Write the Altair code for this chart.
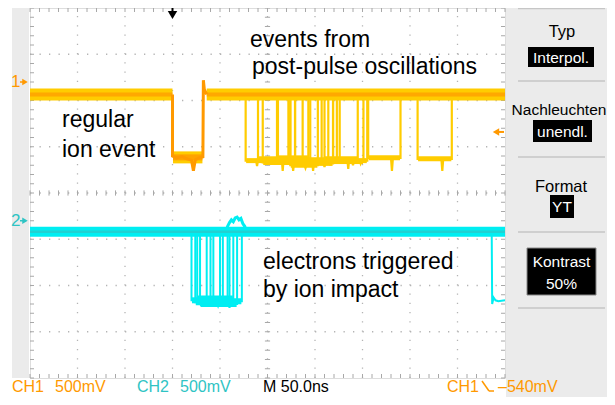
import altair as alt
import pandas as pd
import numpy as np

# ---------------- scope settings ----------------
ns_per_div = 50
mv_per_div = 500
ch1_ground_div = 2.4
ch2_ground_div = -0.6
trigger_time_ns = -100
trigger_level_mv = -540

# ---------------- channel 1 (ion signal) ----------------
ch1_baseline_mv = -135
ch1_base_from = [-250, -64]
ch1_base_to = [-100, 250]

ion_t = [-100, -100, -96, -90, -85, -80, -78, -76, -72, -68, -67.5, -66.5, -64]
ion_mv = [-135, -800, -820, -805, -830, -845, -960, -840, -820, -810, 20, -80, -135]
ion_low_mv = -815

# post-pulse oscillation events
pp_start = [-23, -10, -5, 10, 22, 24, 29, 37, 45, 60, 69, 73, 106, 158]
pp_end = [11, 24, 29, 43, 57, 53, 64, 69, 76, 95, 101, 105, 140, 194]
pp_low = [-850, -830, -870, -820, -860, -900, -840, -880, -850, -830, -860, -850, -820, -830]
pp_dip_t = [-11, 16, 27, 30, 48, 40, 50, 60, 66, 85, 90, 98, 131, 184]
pp_dip_mv = [-910, -960, -960, -900, -960, -930, -900, -920, -900, -940, -900, -880, -960, -960]

# ---------------- channel 2 (electron signal) ----------------
ch2_baseline_mv = -120
el_start = [-80, -76, -74, -71, -64, -60, -57]
el_end = [-50, -42, -36, -32, -27, -40, -47]
el_low = [-860, -880, -840, -900, -870, -850, -890]
el_dip_t = [-70, -55, -45, -40, -35, -50, -52]
el_dip_mv = [-920, -930, -900, -940, -910, -900, -920]

bump_t = [-44, -42, -40, -38, -36, -34, -32, -30, -28, -26, -24, -22]
bump_mv = [-120, -60, -20, 10, -10, 30, 40, 10, 25, -30, -60, -120]

late_t = [236, 236.5, 238, 240, 243, 250]
late_mv = [-120, -900, -830, -860, -870, -860]

# ---------------- styling ----------------
W, H = 475, 370
ORANGE = "#ff9900"
YELLOW = "#ffcc00"
CYAN = "#00eef2"
TEAL = "#2fc4c4"
GRID = "#b4b4b4"
SANS = "Liberation Sans, Arial, sans-serif"

xs = alt.Scale(domain=[-250, 250], nice=False, zero=False)
ys = alt.Scale(domain=[-4, 4], nice=False, zero=False)


def X(f="t"):
    return alt.X(f"{f}:Q", scale=xs, axis=None)


def Y(f="y"):
    return alt.Y(f"{f}:Q", scale=ys, axis=None)


def to_div(mv, gnd):
    return gnd + mv / mv_per_div


def path_df(ts, mvs, gnd, pid):
    return pd.DataFrame({"t": ts, "y": [to_div(v, gnd) for v in mvs],
                         "i": list(range(len(ts))), "id": pid})


def pulse(s, e, low, dt, dv, base, gnd, pid):
    ts = [s, s, dt - 1, dt, dt + 1, e, e]
    mvs = [base, low, low, dv, low, low, base]
    return path_df(ts, mvs, gnd, pid)


def line_layer(df, color, width, opacity=1.0):
    return alt.Chart(df).mark_line(color=color, strokeWidth=width, opacity=opacity,
                                   clip=True, strokeCap="butt", strokeJoin="miter").encode(
        x=X(), y=Y(), detail="id:N", order="i:Q")


dummy = pd.DataFrame({"k": [0]})


def label(txt, x, y, size, color="black", font=SANS, align="left", baseline="alphabetic"):
    return alt.Chart(dummy).mark_text(text=txt, fontSize=size, color=color, font=font,
                                      align=align, baseline=baseline).encode(
        x=alt.value(x), y=alt.value(y))


def box(x1, x2, y1, y2, fill, stroke=None):
    kw = {"stroke": stroke, "strokeWidth": 1} if stroke else {}
    return alt.Chart(dummy).mark_rect(color=fill, **kw).encode(
        x=alt.value(x1), x2=alt.value(x2), y=alt.value(y1), y2=alt.value(y2))


def seg(x1, x2, y1, y2, color, width=1):
    return alt.Chart(dummy).mark_rule(color=color, strokeWidth=width).encode(
        x=alt.value(x1), x2=alt.value(x2), y=alt.value(y1), y2=alt.value(y2))


def ay(ref_y):
    # annotation vertical position, relative to the plot top
    return (ref_y - 5) * H / 378


layers = []

# backgrounds
layers.append(box(-18, -1, 0, H, "#ebebeb"))
layers.append(box(476, 577, 0, 389, "#ebebeb"))

# dotted grid
vgrid = pd.DataFrame({"t": np.arange(-200, 201, ns_per_div), "y": -4.0, "y2": 4.0})
hgrid = pd.DataFrame({"y": np.arange(-3, 4, 1.0), "t": -250.0, "t2": 250.0})
layers.append(alt.Chart(vgrid).mark_rule(color=GRID, strokeWidth=1.3, strokeDash=[1.3, H / 40 - 1.3]).encode(
    x=X(), y=Y(), y2="y2:Q"))
layers.append(alt.Chart(hgrid).mark_rule(color=GRID, strokeWidth=1.3, strokeDash=[1.3, W / 50 - 1.3]).encode(
    x=X(), x2="t2:Q", y=Y()))

# tick marks on border and center lines
tx = np.arange(-250, 250.1, 10.0)
ty = np.arange(-4, 4.01, 0.2)
tl_t = 4 / W * 500
tl_y = 4 / H * 8
ct_t = 2.6 / W * 500
ct_y = 2.6 / H * 8
ticks = pd.concat([
    pd.DataFrame({"t": tx, "t2": tx, "y": 4.0, "y2": 4.0 - tl_y}),
    pd.DataFrame({"t": tx, "t2": tx, "y": -4.0, "y2": -4.0 + tl_y}),
    pd.DataFrame({"t": tx, "t2": tx, "y": -ct_y, "y2": ct_y}),
    pd.DataFrame({"t": -250.0, "t2": -250.0 + tl_t, "y": ty, "y2": ty}),
    pd.DataFrame({"t": 250.0, "t2": 250.0 - tl_t, "y": ty, "y2": ty}),
    pd.DataFrame({"t": -ct_t, "t2": ct_t, "y": ty, "y2": ty}),
])
layers.append(alt.Chart(ticks).mark_rule(color="#a8a8a8", strokeWidth=1).encode(
    x=X(), x2="t2:Q", y=Y(), y2="y2:Q"))

# ---- channel 2 traces ----
ch2_base = path_df([-250, 250], [ch2_baseline_mv] * 2, ch2_ground_div, 0)
el_paths = pd.concat([pulse(s, e, lo, dt, dv, ch2_baseline_mv, ch2_ground_div, k)
                      for k, (s, e, lo, dt, dv) in enumerate(zip(el_start, el_end, el_low, el_dip_t, el_dip_mv))]
                     + [path_df(late_t, late_mv, ch2_ground_div, 100)])
el_bottom = pd.concat([path_df([s + 0.5, e - 0.5], [lo, lo], ch2_ground_div, k)
                       for k, (s, e, lo) in enumerate(zip(el_start, el_end, el_low))])
layers.append(line_layer(el_bottom, CYAN, 6))
layers.append(line_layer(el_paths, CYAN, 2))
layers.append(line_layer(path_df(bump_t, bump_mv, ch2_ground_div, 0), CYAN, 3))
layers.append(line_layer(ch2_base, CYAN, 10))
layers.append(line_layer(ch2_base, TEAL, 2.5, 0.7))

# ---- channel 1 traces ----
pp_paths = pd.concat([pulse(s, e, lo, dt, dv, ch1_baseline_mv, ch1_ground_div, k)
                      for k, (s, e, lo, dt, dv) in enumerate(zip(pp_start, pp_end, pp_low, pp_dip_t, pp_dip_mv))])
pp_bottom = pd.concat([path_df([s + 0.5, e - 0.5], [lo, lo], ch1_ground_div, k)
                       for k, (s, e, lo) in enumerate(zip(pp_start, pp_end, pp_low))])
layers.append(line_layer(pp_bottom, YELLOW, 5))
layers.append(line_layer(pp_paths, YELLOW, 2.2))

ch1_base = pd.concat([path_df([a, b], [ch1_baseline_mv] * 2, ch1_ground_div, k)
                      for k, (a, b) in enumerate(zip(ch1_base_from, ch1_base_to))])
layers.append(line_layer(ch1_base, YELLOW, 12))
layers.append(line_layer(ch1_base, ORANGE, 4, 0.7))

ion_df = path_df(ion_t, ion_mv, ch1_ground_div, 0)
ion_band = path_df([-99.5, -68.5], [ion_low_mv] * 2, ch1_ground_div, 0)
layers.append(line_layer(ion_band, YELLOW, 12))
layers.append(line_layer(ion_band, ORANGE, 6, 0.8))
layers.append(line_layer(ion_df, ORANGE, 3))

# ---- markers ----
for gnd, col, txt in [(ch1_ground_div, ORANGE, "1"), (ch2_ground_div, TEAL, "2")]:
    layers.append(alt.Chart(dummy).mark_text(text=txt, fontSize=17, color=col, font=SANS,
                                             align="left", baseline="middle").encode(
        x=alt.value(-19), y=alt.YDatum(gnd, scale=ys)))
    layers.append(alt.Chart(dummy).mark_point(shape="triangle-right", filled=True, size=40,
                                              color=col, opacity=1).encode(
        x=alt.value(-5), y=alt.YDatum(gnd, scale=ys)))
    layers.append(alt.Chart(dummy).mark_rule(color=col, strokeWidth=1.5).encode(
        x=alt.value(-10), x2=alt.value(-4), y=alt.YDatum(gnd, scale=ys)))

# trigger position (top) and trigger level (right)
layers.append(alt.Chart(dummy).mark_point(shape="triangle-down", filled=True, size=90, color="black", opacity=1).encode(
    x=alt.XDatum(trigger_time_ns, scale=xs), y=alt.value(7)))
layers.append(alt.Chart(dummy).mark_rule(color="black", strokeWidth=2).encode(
    x=alt.XDatum(trigger_time_ns, scale=xs), y=alt.value(0), y2=alt.value(5)))
trig_y = alt.YDatum(to_div(trigger_level_mv, ch1_ground_div), scale=ys)
layers.append(alt.Chart(dummy).mark_point(shape="triangle-left", filled=True, size=55, color=ORANGE, opacity=1).encode(
    x=alt.value(466), y=trig_y))
layers.append(alt.Chart(dummy).mark_rule(color=ORANGE, strokeWidth=2).encode(
    x=alt.value(467), x2=alt.value(474), y=trig_y))

# ---- annotations ----
layers += [
    label("events from", 220, ay(45), 23),
    label("post-pulse oscillations", 222, ay(72), 23),
    label("regular", 32, ay(127), 23),
    label("ion event", 32, ay(157), 23),
    label("electrons triggered", 233, ay(272), 23),
    label("by ion impact", 233, ay(300), 23),
]

# ---- right menu panel ----
for yy in [0.5, 73, 149, 224, 300]:
    layers.append(seg(488, 575, yy, yy, "#c6c6c6", 1.5))
PF = 15.5
layers += [
    label("Typ", 532, 29, 16.5, align="center"),
    box(498, 564, 39, 59, "black"),
    label("Interpol.", 531, 55, PF, color="white", align="center"),
    label("Nachleuchten", 529, 107, PF, align="center"),
    box(503, 562, 112, 134, "black"),
    label("unendl.", 532.5, 129, PF, color="white", align="center"),
    label("Format", 531, 184, 16.5, align="center"),
    box(520, 544, 187, 210, "black"),
    label("YT", 532, 204, PF, color="white", align="center"),
    box(497, 566, 240, 287, "black", stroke="#888888"),
    label("Kontrast", 531.5, 259, PF, color="white", align="center"),
    label("50%", 531.5, 281, PF, color="white", align="center"),
]

# ---- status line ----
SB = 384
SF = 16
layers += [
    label("CH1", -18, SB, SF, color=ORANGE),
    label("500mV", 25, SB, SF, color=ORANGE),
    label("CH2", 107, SB, SF, color=TEAL),
    label("500mV", 150, SB, SF, color=TEAL),
    label("M 50.0ns", 233, SB, SF, color="black"),
    label("CH1", 417, SB, SF, color=ORANGE),
    seg(452, 459, 373, 383, ORANGE, 1.5),
    seg(459, 464, 383, 383, ORANGE, 1.5),
    label("\u2013540mV", 468, SB, SF, color=ORANGE),
]

chart = alt.layer(*layers).properties(
    width=W, height=H,
    padding={"left": 22, "top": 0, "right": 102, "bottom": 19},
    autosize=alt.AutoSizeParams(type="none"),
).configure_view(stroke="#a0a0a0", strokeWidth=1, fill="white").configure(background="white")

chart.save("out.html", embed_options={"renderer": "svg", "actions": False})
